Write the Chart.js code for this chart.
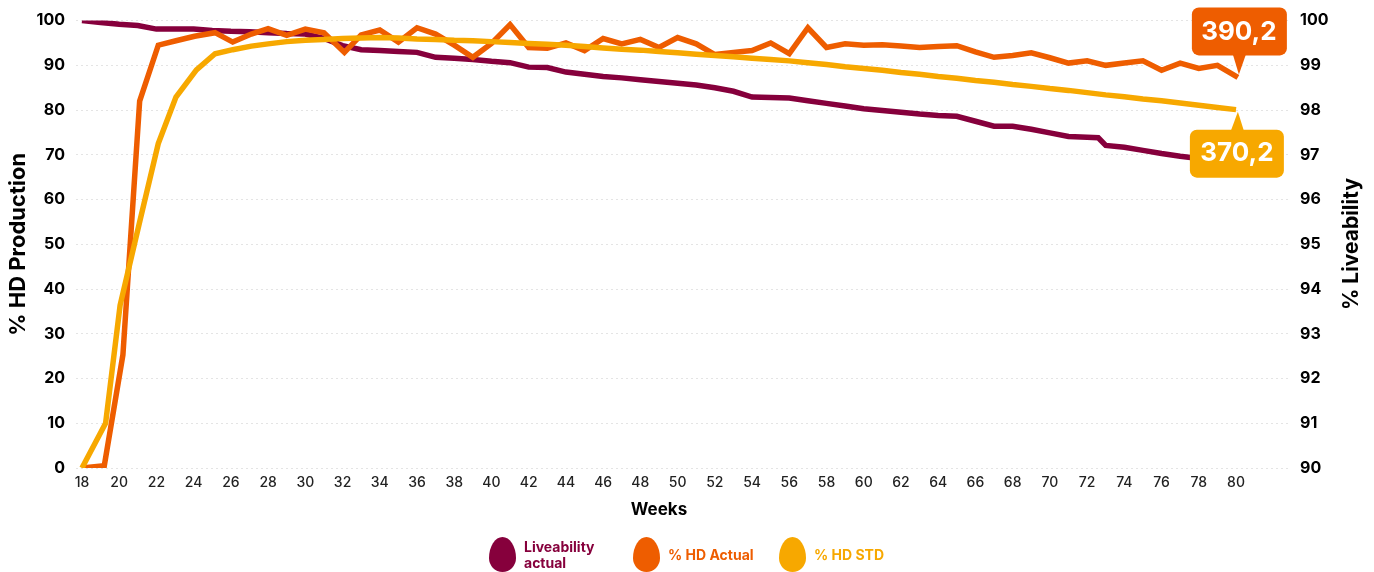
<!DOCTYPE html>
<html>
<head>
<meta charset="utf-8">
<title>HD Production and Liveability</title>
<script src="https://cdn.jsdelivr.net/npm/chart.js@4/dist/chart.umd.min.js"></script>
<style>
  html, body { margin: 0; padding: 0; background: #fff; }
  #wrap { position: relative; width: 1374px; height: 572px; overflow: hidden; font-family: Inter, "Open Sans", sans-serif; }
  #chart { position: absolute; left: 0; top: 0; }
  .legend-item { position: absolute; top: 537px; display: flex; align-items: center; height: 35px; font-size: 14px; font-weight: 700; line-height: 16px; }
  .egg { width: 27px; height: 35px; margin-right: 8px; border-radius: 50% 50% 50% 50% / 60% 60% 40% 40%; flex: none; }
</style>
</head>
<body>
<div id="wrap">
  <canvas id="chart" width="1374" height="572"></canvas>
  <div class="legend-item" style="left:489px;color:#86003c"><span class="egg" style="background:#86003c"></span><span>Liveability<br>actual</span></div>
  <div class="legend-item" style="left:633px;color:#ee5d00"><span class="egg" style="background:#ee5d00"></span><span>% HD Actual</span></div>
  <div class="legend-item" style="left:779px;color:#f7a800"><span class="egg" style="background:#f7a800"></span><span>% HD STD</span></div>
</div>
<script>
const weekTicks = [18,20,22,24,26,28,30,32,34,36,38,40,42,44,46,48,50,52,54,56,58,60,62,64,66,68,70,72,74,76,78,80];
const hdWeeks = [18,19.2,20.2,21.1,22.1,23.05,24.05,25.15,26.1,27.1,28,29,30,31,32.1,33,34,35,36,37,38,39,40,41,42,43,44,45,46,47,48,49,50,51,52,53,54,55,56,57,58,59,60,61,62,63,64,65,66,67,68,69,70,71,72,73,74,75,76,77,78,79,80.1];
const hdActual = [0,0.5,25.3,82,94.5,95.5,96.5,97.3,95.2,97,98.2,96.7,98.1,97.3,92.9,96.8,97.9,95.2,98.4,97,94.5,91.8,94.9,99.1,94,93.8,95,93.3,96,94.8,95.8,94,96.2,94.8,92.4,92.9,93.3,95,92.6,98.4,94,94.8,94.5,94.6,94.3,94,94.2,94.4,93,91.8,92.2,92.8,91.7,90.5,91,90,90.5,91,88.9,90.5,89.3,90,87.3];
const stdWeeks = [18,19.27,20.05,21.1,22.1,23.05,24.15,25.15,26.1,27.1,28,29,30,31,32,33,34,35,36,37,38,39,40,41,42,43,44,45,46,47,48,49,50,51,52,53,54,55,56,57,58,59,60,61,62,63,64,65,66,67,68,69,70,71,72,73,74,75,76,77,78,79,80];
const hdStd = [0,10,36.4,55,72.5,82.9,89,92.6,93.5,94.3,94.8,95.3,95.6,95.8,96,96.1,96.2,96.1,95.9,95.8,95.6,95.5,95.3,95.1,94.9,94.7,94.5,94.2,93.9,93.6,93.4,93.1,92.8,92.5,92.2,91.9,91.6,91.3,91,90.6,90.2,89.7,89.3,88.9,88.4,88,87.5,87.1,86.6,86.2,85.7,85.3,84.8,84.4,83.9,83.4,83,82.5,82.1,81.6,81.1,80.6,80.1];
const liveWeeks = [18,19,20,21,22,23,24,25,26,27,28,29,30,31,32,33,34,35,36,37,38,39,40,41,42,43,44,45,46,47,48,49,50,51,52,53,54,55,56,57,58,59,60,61,62,63,64,65,66,67,68,69,70,71,72,72.6,73,74,75,76,77,78,79,80];
const liveActual = [100,99.96,99.92,99.89,99.81,99.81,99.81,99.78,99.76,99.75,99.73,99.71,99.7,99.6,99.44,99.35,99.33,99.31,99.29,99.18,99.16,99.13,99.09,99.06,98.96,98.95,98.85,98.8,98.75,98.72,98.68,98.64,98.6,98.56,98.5,98.42,98.29,98.28,98.27,98.21,98.15,98.09,98.03,97.99,97.95,97.91,97.88,97.86,97.75,97.64,97.64,97.57,97.49,97.41,97.39,97.38,97.21,97.17,97.1,97.03,96.97,96.92,96.88,96.85];
const leftTicks = [0,10,20,30,40,50,60,70,80,90,100];
const calloutLabels = ["390,2", "370,2"];
const xTitle = "Weeks";
const rightTitle = "% Liveability";

const FONT = "Inter, 'Open Sans', sans-serif";
const pair = (xs, ys) => ys.map((y, i) => ({ x: xs[i], y }));

function roundBox(ctx, x, y, w, h) {
  ctx.beginPath();
  ctx.roundRect(x, y, w, h, 7);
  ctx.fill();
}

// value boxes at the end of the two HD lines
const calloutPlugin = {
  id: "callouts",
  afterDatasetsDraw(chart) {
    const { ctx, scales } = chart;
    const px = scales.x.getPixelForValue(hdWeeks[hdWeeks.length - 1]);
    ctx.save();

    const ay = scales.y.getPixelForValue(hdActual[hdActual.length - 1]);
    ctx.fillStyle = "#ee5d00";
    roundBox(ctx, px - 46, ay - 70, 95, 48);
    ctx.beginPath();
    ctx.moveTo(px - 5, ay - 23);
    ctx.lineTo(px + 8, ay - 23);
    ctx.lineTo(px + 1, ay - 3);
    ctx.fill();

    const sy = scales.y.getPixelForValue(hdStd[hdStd.length - 1]);
    ctx.fillStyle = "#f7a800";
    roundBox(ctx, px - 48, sy + 20, 94, 48);
    ctx.beginPath();
    ctx.moveTo(px - 7, sy + 21);
    ctx.lineTo(px + 6, sy + 21);
    ctx.lineTo(px, sy + 2);
    ctx.fill();

    ctx.fillStyle = "#fff";
    ctx.font = "700 26px " + FONT;
    ctx.textAlign = "center";
    ctx.textBaseline = "middle";
    ctx.fillText(calloutLabels[0], px + 1, ay - 45);
    ctx.fillText(calloutLabels[1], px - 1, sy + 44);
    ctx.restore();
  }
};

// chart.js can't turn a right axis title this way, nor shift the x title off centre
const titlesPlugin = {
  id: "extraTitles",
  afterDraw(chart) {
    const { ctx } = chart;
    ctx.save();
    ctx.fillStyle = "#000";
    ctx.textAlign = "center";
    ctx.textBaseline = "middle";
    ctx.font = "700 17px " + FONT;
    ctx.fillText(xTitle, 659, 510);
    ctx.translate(1352, 244);
    ctx.rotate(-Math.PI / 2);
    ctx.font = "700 21px " + FONT;
    ctx.fillText(rightTitle, 0, 0);
    ctx.restore();
  }
};

new Chart(document.getElementById("chart").getContext("2d"), {
  type: "line",
  plugins: [calloutPlugin, titlesPlugin],
  data: {
    datasets: [
      { label: "Liveability actual", data: pair(liveWeeks, liveActual), yAxisID: "y1", borderColor: "#86003c", order: 3 },
      { label: "% HD Actual", data: pair(hdWeeks, hdActual), yAxisID: "y", borderColor: "#ee5d00", order: 2 },
      { label: "% HD STD", data: pair(stdWeeks, hdStd), yAxisID: "y", borderColor: "#f7a800", order: 1 }
    ]
  },
  options: {
    responsive: false,
    animation: false,
    layout: { padding: { top: 20 } },
    elements: { line: { borderWidth: 5.5, tension: 0, fill: false }, point: { radius: 0 } },
    plugins: { legend: { display: false }, tooltip: { enabled: false } },
    scales: {
      x: {
        type: "linear",
        min: 17.68,
        max: 82.9,
        grid: { display: false, drawTicks: false },
        border: { display: false },
        afterBuildTicks: s => { s.ticks = weekTicks.map(v => ({ value: v })); },
        afterFit: s => { s.height = 104; },
        ticks: { autoSkip: false, maxRotation: 0, padding: 6, color: "#222", font: { family: FONT, size: 14, weight: 500 } }
      },
      y: {
        position: "left",
        min: 0,
        max: 100,
        afterBuildTicks: s => { s.ticks = leftTicks.map(v => ({ value: v })); },
        afterFit: s => { s.width = 76; },
        grid: { color: "#e4e4e4", drawTicks: false },
        border: { display: false, dash: [2, 3] },
        ticks: { padding: 11, color: "#000", font: { family: FONT, size: 16, weight: 700 } },
        title: { display: true, text: "% HD Production", color: "#000", font: { family: FONT, size: 22, weight: 700 }, padding: { top: 5, bottom: 0 } }
      },
      y1: {
        position: "right",
        min: 90,
        max: 100,
        afterFit: s => { s.width = 84; },
        grid: { display: false, drawTicks: false },
        border: { display: false },
        ticks: { stepSize: 1, padding: 10, color: "#000", font: { family: FONT, size: 16, weight: 700 } }
      }
    }
  }
});
</script>
</body>
</html>
